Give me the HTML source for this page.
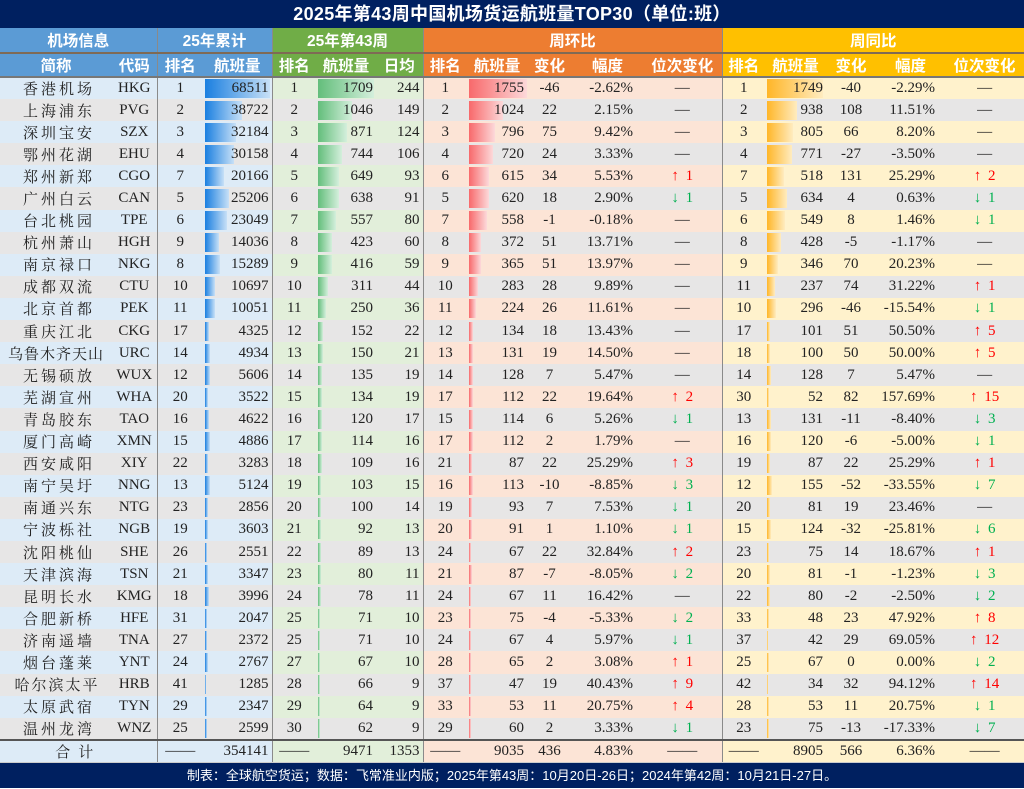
<!DOCTYPE html>
<html><head><meta charset="utf-8">
<style>
*{margin:0;padding:0;box-sizing:border-box}
body{width:1024px;height:789px;background:#fff;overflow:hidden;font-family:"Liberation Serif","Noto Serif CJK SC",serif}
.title{height:28px;background:#002060;color:#fff;font:bold 18px "Liberation Sans","Noto Sans CJK SC",sans-serif;text-align:center;line-height:28px;letter-spacing:0.3px}
table{border-collapse:collapse;table-layout:fixed;width:1024px}
th{font:bold 15.5px "Liberation Sans","Noto Sans CJK SC",sans-serif;color:#fff;height:24.5px;text-align:center;white-space:nowrap;padding:0}
tr.h1 th{border-bottom:2px solid #7f6a55}
tr.h2 th{border-bottom:2px solid #777}
.B{background:#5B9BD5}.G{background:#70AD47}.O{background:#ED7D31}.Y{background:#FFC000}
td{height:22.1px;font-size:15px;color:#222;text-align:center;white-space:nowrap;padding:0;overflow:hidden}
tr.o td.b{background-color:#DDEBF7}tr.o td.g{background-color:#E2EFDA}tr.o td.r{background-color:#FCE4D6}tr.o td.y{background-color:#FFF2CC}
tr.e td{background-color:#E7E6E6}
td.sep,th.sep{border-left:1.5px solid #8a8a8a}
td.nm{letter-spacing:3px;padding-left:6px}
td.rt{text-align:right;padding-right:3px}
td.pc{text-align:right;padding-right:10px}
.bar{background-repeat:no-repeat;background-position:2px center}
td.bb{background-image:linear-gradient(90deg,#1a7fe0,#c7e0f7)}
td.bg{background-image:linear-gradient(90deg,#63be7b,#d4efdc)}
td.br{background-image:linear-gradient(90deg,#f8696b,#fcd9da)}
td.by{background-image:linear-gradient(90deg,#ffb628,#ffecc0)}
.u{color:#f00;word-spacing:3px}.d{color:#00b050;word-spacing:3px}
tr.tot td{height:22px;border-top:2px solid #555;background-color:#DDEBF7}
tr.tot td.g{background-color:#E2EFDA}tr.tot td.r{background-color:#FCE4D6}tr.tot td.y{background-color:#FFF2CC}
.foot{height:26px;background:#002060;color:#fff;font:13px "Liberation Sans","Noto Sans CJK SC",sans-serif;text-align:center;line-height:25px;border-top:1px solid #ccc}
</style></head><body>
<div class="title">2025年第43周中国机场货运航班量TOP30（单位:班）</div>
<table>
<colgroup><col style="width:112px"><col style="width:45px"><col style="width:46px"><col style="width:69px"><col style="width:44px"><col style="width:60px"><col style="width:47px"><col style="width:44px"><col style="width:60px"><col style="width:45px"><col style="width:71px"><col style="width:79px"><col style="width:43px"><col style="width:61px"><col style="width:50px"><col style="width:69px"><col style="width:79px"></colgroup>
<tr class="h1"><th class="B" colspan="2">机场信息</th><th class="B sep" colspan="2">25年累计</th><th class="G sep" colspan="3">25年第43周</th><th class="O sep" colspan="5">周环比</th><th class="Y sep" colspan="5">周同比</th></tr>
<tr class="h2"><th class="B">简称</th><th class="B">代码</th><th class="B sep">排名</th><th class="B">航班量</th><th class="G sep">排名</th><th class="G">航班量</th><th class="G">日均</th><th class="O sep">排名</th><th class="O">航班量</th><th class="O">变化</th><th class="O">幅度</th><th class="O">位次变化</th><th class="Y sep">排名</th><th class="Y">航班量</th><th class="Y">变化</th><th class="Y">幅度</th><th class="Y">位次变化</th></tr>
<tr class="o"><td class="b nm">香港机场</td><td class="b">HKG</td><td class="b sep">1</td><td class="b rt bar bb" style="background-size:65px 19px">68511</td><td class="g sep">1</td><td class="g rt bar bg" style="background-size:56px 19px">1709</td><td class="g rt">244</td><td class="r sep">1</td><td class="r rt bar br" style="background-size:58px 19px">1755</td><td class="r">-46</td><td class="r pc">-2.62%</td><td class="r">—</td><td class="y sep">1</td><td class="y rt bar by" style="background-size:56px 19px">1749</td><td class="y">-40</td><td class="y pc">-2.29%</td><td class="y">—</td></tr>
<tr class="e"><td class="b nm">上海浦东</td><td class="b">PVG</td><td class="b sep">2</td><td class="b rt bar bb" style="background-size:37px 19px">38722</td><td class="g sep">2</td><td class="g rt bar bg" style="background-size:34px 19px">1046</td><td class="g rt">149</td><td class="r sep">2</td><td class="r rt bar br" style="background-size:34px 19px">1024</td><td class="r">22</td><td class="r pc">2.15%</td><td class="r">—</td><td class="y sep">2</td><td class="y rt bar by" style="background-size:30px 19px">938</td><td class="y">108</td><td class="y pc">11.51%</td><td class="y">—</td></tr>
<tr class="o"><td class="b nm">深圳宝安</td><td class="b">SZX</td><td class="b sep">3</td><td class="b rt bar bb" style="background-size:31px 19px">32184</td><td class="g sep">3</td><td class="g rt bar bg" style="background-size:29px 19px">871</td><td class="g rt">124</td><td class="r sep">3</td><td class="r rt bar br" style="background-size:26px 19px">796</td><td class="r">75</td><td class="r pc">9.42%</td><td class="r">—</td><td class="y sep">3</td><td class="y rt bar by" style="background-size:26px 19px">805</td><td class="y">66</td><td class="y pc">8.20%</td><td class="y">—</td></tr>
<tr class="e"><td class="b nm">鄂州花湖</td><td class="b">EHU</td><td class="b sep">4</td><td class="b rt bar bb" style="background-size:29px 19px">30158</td><td class="g sep">4</td><td class="g rt bar bg" style="background-size:24px 19px">744</td><td class="g rt">106</td><td class="r sep">4</td><td class="r rt bar br" style="background-size:24px 19px">720</td><td class="r">24</td><td class="r pc">3.33%</td><td class="r">—</td><td class="y sep">4</td><td class="y rt bar by" style="background-size:25px 19px">771</td><td class="y">-27</td><td class="y pc">-3.50%</td><td class="y">—</td></tr>
<tr class="o"><td class="b nm">郑州新郑</td><td class="b">CGO</td><td class="b sep">7</td><td class="b rt bar bb" style="background-size:19px 19px">20166</td><td class="g sep">5</td><td class="g rt bar bg" style="background-size:21px 19px">649</td><td class="g rt">93</td><td class="r sep">6</td><td class="r rt bar br" style="background-size:20px 19px">615</td><td class="r">34</td><td class="r pc">5.53%</td><td class="r u">↑ 1</td><td class="y sep">7</td><td class="y rt bar by" style="background-size:17px 19px">518</td><td class="y">131</td><td class="y pc">25.29%</td><td class="y u">↑ 2</td></tr>
<tr class="e"><td class="b nm">广州白云</td><td class="b">CAN</td><td class="b sep">5</td><td class="b rt bar bb" style="background-size:24px 19px">25206</td><td class="g sep">6</td><td class="g rt bar bg" style="background-size:21px 19px">638</td><td class="g rt">91</td><td class="r sep">5</td><td class="r rt bar br" style="background-size:20px 19px">620</td><td class="r">18</td><td class="r pc">2.90%</td><td class="r d">↓ 1</td><td class="y sep">5</td><td class="y rt bar by" style="background-size:20px 19px">634</td><td class="y">4</td><td class="y pc">0.63%</td><td class="y d">↓ 1</td></tr>
<tr class="o"><td class="b nm">台北桃园</td><td class="b">TPE</td><td class="b sep">6</td><td class="b rt bar bb" style="background-size:22px 19px">23049</td><td class="g sep">7</td><td class="g rt bar bg" style="background-size:18px 19px">557</td><td class="g rt">80</td><td class="r sep">7</td><td class="r rt bar br" style="background-size:18px 19px">558</td><td class="r">-1</td><td class="r pc">-0.18%</td><td class="r">—</td><td class="y sep">6</td><td class="y rt bar by" style="background-size:18px 19px">549</td><td class="y">8</td><td class="y pc">1.46%</td><td class="y d">↓ 1</td></tr>
<tr class="e"><td class="b nm">杭州萧山</td><td class="b">HGH</td><td class="b sep">9</td><td class="b rt bar bb" style="background-size:14px 19px">14036</td><td class="g sep">8</td><td class="g rt bar bg" style="background-size:14px 19px">423</td><td class="g rt">60</td><td class="r sep">8</td><td class="r rt bar br" style="background-size:12px 19px">372</td><td class="r">51</td><td class="r pc">13.71%</td><td class="r">—</td><td class="y sep">8</td><td class="y rt bar by" style="background-size:14px 19px">428</td><td class="y">-5</td><td class="y pc">-1.17%</td><td class="y">—</td></tr>
<tr class="o"><td class="b nm">南京禄口</td><td class="b">NKG</td><td class="b sep">8</td><td class="b rt bar bb" style="background-size:15px 19px">15289</td><td class="g sep">9</td><td class="g rt bar bg" style="background-size:14px 19px">416</td><td class="g rt">59</td><td class="r sep">9</td><td class="r rt bar br" style="background-size:12px 19px">365</td><td class="r">51</td><td class="r pc">13.97%</td><td class="r">—</td><td class="y sep">9</td><td class="y rt bar by" style="background-size:11px 19px">346</td><td class="y">70</td><td class="y pc">20.23%</td><td class="y">—</td></tr>
<tr class="e"><td class="b nm">成都双流</td><td class="b">CTU</td><td class="b sep">10</td><td class="b rt bar bb" style="background-size:10px 19px">10697</td><td class="g sep">10</td><td class="g rt bar bg" style="background-size:10px 19px">311</td><td class="g rt">44</td><td class="r sep">10</td><td class="r rt bar br" style="background-size:9px 19px">283</td><td class="r">28</td><td class="r pc">9.89%</td><td class="r">—</td><td class="y sep">11</td><td class="y rt bar by" style="background-size:8px 19px">237</td><td class="y">74</td><td class="y pc">31.22%</td><td class="y u">↑ 1</td></tr>
<tr class="o"><td class="b nm">北京首都</td><td class="b">PEK</td><td class="b sep">11</td><td class="b rt bar bb" style="background-size:10px 19px">10051</td><td class="g sep">11</td><td class="g rt bar bg" style="background-size:8px 19px">250</td><td class="g rt">36</td><td class="r sep">11</td><td class="r rt bar br" style="background-size:7px 19px">224</td><td class="r">26</td><td class="r pc">11.61%</td><td class="r">—</td><td class="y sep">10</td><td class="y rt bar by" style="background-size:9px 19px">296</td><td class="y">-46</td><td class="y pc">-15.54%</td><td class="y d">↓ 1</td></tr>
<tr class="e"><td class="b nm">重庆江北</td><td class="b">CKG</td><td class="b sep">17</td><td class="b rt bar bb" style="background-size:4px 19px">4325</td><td class="g sep">12</td><td class="g rt bar bg" style="background-size:5px 19px">152</td><td class="g rt">22</td><td class="r sep">12</td><td class="r rt bar br" style="background-size:4px 19px">134</td><td class="r">18</td><td class="r pc">13.43%</td><td class="r">—</td><td class="y sep">17</td><td class="y rt bar by" style="background-size:3px 19px">101</td><td class="y">51</td><td class="y pc">50.50%</td><td class="y u">↑ 5</td></tr>
<tr class="o"><td class="b nm" style="letter-spacing:1px;padding-left:0">乌鲁木齐天山</td><td class="b">URC</td><td class="b sep">14</td><td class="b rt bar bb" style="background-size:5px 19px">4934</td><td class="g sep">13</td><td class="g rt bar bg" style="background-size:5px 19px">150</td><td class="g rt">21</td><td class="r sep">13</td><td class="r rt bar br" style="background-size:4px 19px">131</td><td class="r">19</td><td class="r pc">14.50%</td><td class="r">—</td><td class="y sep">18</td><td class="y rt bar by" style="background-size:3px 19px">100</td><td class="y">50</td><td class="y pc">50.00%</td><td class="y u">↑ 5</td></tr>
<tr class="e"><td class="b nm">无锡硕放</td><td class="b">WUX</td><td class="b sep">12</td><td class="b rt bar bb" style="background-size:5px 19px">5606</td><td class="g sep">14</td><td class="g rt bar bg" style="background-size:4px 19px">135</td><td class="g rt">19</td><td class="r sep">14</td><td class="r rt bar br" style="background-size:4px 19px">128</td><td class="r">7</td><td class="r pc">5.47%</td><td class="r">—</td><td class="y sep">14</td><td class="y rt bar by" style="background-size:4px 19px">128</td><td class="y">7</td><td class="y pc">5.47%</td><td class="y">—</td></tr>
<tr class="o"><td class="b nm">芜湖宣州</td><td class="b">WHA</td><td class="b sep">20</td><td class="b rt bar bb" style="background-size:3px 19px">3522</td><td class="g sep">15</td><td class="g rt bar bg" style="background-size:4px 19px">134</td><td class="g rt">19</td><td class="r sep">17</td><td class="r rt bar br" style="background-size:4px 19px">112</td><td class="r">22</td><td class="r pc">19.64%</td><td class="r u">↑ 2</td><td class="y sep">30</td><td class="y rt bar by" style="background-size:2px 19px">52</td><td class="y">82</td><td class="y pc">157.69%</td><td class="y u">↑ 15</td></tr>
<tr class="e"><td class="b nm">青岛胶东</td><td class="b">TAO</td><td class="b sep">16</td><td class="b rt bar bb" style="background-size:4px 19px">4622</td><td class="g sep">16</td><td class="g rt bar bg" style="background-size:4px 19px">120</td><td class="g rt">17</td><td class="r sep">15</td><td class="r rt bar br" style="background-size:4px 19px">114</td><td class="r">6</td><td class="r pc">5.26%</td><td class="r d">↓ 1</td><td class="y sep">13</td><td class="y rt bar by" style="background-size:4px 19px">131</td><td class="y">-11</td><td class="y pc">-8.40%</td><td class="y d">↓ 3</td></tr>
<tr class="o"><td class="b nm">厦门高崎</td><td class="b">XMN</td><td class="b sep">15</td><td class="b rt bar bb" style="background-size:5px 19px">4886</td><td class="g sep">17</td><td class="g rt bar bg" style="background-size:4px 19px">114</td><td class="g rt">16</td><td class="r sep">17</td><td class="r rt bar br" style="background-size:4px 19px">112</td><td class="r">2</td><td class="r pc">1.79%</td><td class="r">—</td><td class="y sep">16</td><td class="y rt bar by" style="background-size:4px 19px">120</td><td class="y">-6</td><td class="y pc">-5.00%</td><td class="y d">↓ 1</td></tr>
<tr class="e"><td class="b nm">西安咸阳</td><td class="b">XIY</td><td class="b sep">22</td><td class="b rt bar bb" style="background-size:3px 19px">3283</td><td class="g sep">18</td><td class="g rt bar bg" style="background-size:4px 19px">109</td><td class="g rt">16</td><td class="r sep">21</td><td class="r rt bar br" style="background-size:3px 19px">87</td><td class="r">22</td><td class="r pc">25.29%</td><td class="r u">↑ 3</td><td class="y sep">19</td><td class="y rt bar by" style="background-size:3px 19px">87</td><td class="y">22</td><td class="y pc">25.29%</td><td class="y u">↑ 1</td></tr>
<tr class="o"><td class="b nm">南宁吴圩</td><td class="b">NNG</td><td class="b sep">13</td><td class="b rt bar bb" style="background-size:5px 19px">5124</td><td class="g sep">19</td><td class="g rt bar bg" style="background-size:3px 19px">103</td><td class="g rt">15</td><td class="r sep">16</td><td class="r rt bar br" style="background-size:4px 19px">113</td><td class="r">-10</td><td class="r pc">-8.85%</td><td class="r d">↓ 3</td><td class="y sep">12</td><td class="y rt bar by" style="background-size:5px 19px">155</td><td class="y">-52</td><td class="y pc">-33.55%</td><td class="y d">↓ 7</td></tr>
<tr class="e"><td class="b nm">南通兴东</td><td class="b">NTG</td><td class="b sep">23</td><td class="b rt bar bb" style="background-size:3px 19px">2856</td><td class="g sep">20</td><td class="g rt bar bg" style="background-size:3px 19px">100</td><td class="g rt">14</td><td class="r sep">19</td><td class="r rt bar br" style="background-size:3px 19px">93</td><td class="r">7</td><td class="r pc">7.53%</td><td class="r d">↓ 1</td><td class="y sep">20</td><td class="y rt bar by" style="background-size:3px 19px">81</td><td class="y">19</td><td class="y pc">23.46%</td><td class="y">—</td></tr>
<tr class="o"><td class="b nm">宁波栎社</td><td class="b">NGB</td><td class="b sep">19</td><td class="b rt bar bb" style="background-size:3px 19px">3603</td><td class="g sep">21</td><td class="g rt bar bg" style="background-size:3px 19px">92</td><td class="g rt">13</td><td class="r sep">20</td><td class="r rt bar br" style="background-size:3px 19px">91</td><td class="r">1</td><td class="r pc">1.10%</td><td class="r d">↓ 1</td><td class="y sep">15</td><td class="y rt bar by" style="background-size:4px 19px">124</td><td class="y">-32</td><td class="y pc">-25.81%</td><td class="y d">↓ 6</td></tr>
<tr class="e"><td class="b nm">沈阳桃仙</td><td class="b">SHE</td><td class="b sep">26</td><td class="b rt bar bb" style="background-size:2px 19px">2551</td><td class="g sep">22</td><td class="g rt bar bg" style="background-size:3px 19px">89</td><td class="g rt">13</td><td class="r sep">24</td><td class="r rt bar br" style="background-size:2px 19px">67</td><td class="r">22</td><td class="r pc">32.84%</td><td class="r u">↑ 2</td><td class="y sep">23</td><td class="y rt bar by" style="background-size:2px 19px">75</td><td class="y">14</td><td class="y pc">18.67%</td><td class="y u">↑ 1</td></tr>
<tr class="o"><td class="b nm">天津滨海</td><td class="b">TSN</td><td class="b sep">21</td><td class="b rt bar bb" style="background-size:3px 19px">3347</td><td class="g sep">23</td><td class="g rt bar bg" style="background-size:3px 19px">80</td><td class="g rt">11</td><td class="r sep">21</td><td class="r rt bar br" style="background-size:3px 19px">87</td><td class="r">-7</td><td class="r pc">-8.05%</td><td class="r d">↓ 2</td><td class="y sep">20</td><td class="y rt bar by" style="background-size:3px 19px">81</td><td class="y">-1</td><td class="y pc">-1.23%</td><td class="y d">↓ 3</td></tr>
<tr class="e"><td class="b nm">昆明长水</td><td class="b">KMG</td><td class="b sep">18</td><td class="b rt bar bb" style="background-size:4px 19px">3996</td><td class="g sep">24</td><td class="g rt bar bg" style="background-size:3px 19px">78</td><td class="g rt">11</td><td class="r sep">24</td><td class="r rt bar br" style="background-size:2px 19px">67</td><td class="r">11</td><td class="r pc">16.42%</td><td class="r">—</td><td class="y sep">22</td><td class="y rt bar by" style="background-size:3px 19px">80</td><td class="y">-2</td><td class="y pc">-2.50%</td><td class="y d">↓ 2</td></tr>
<tr class="o"><td class="b nm">合肥新桥</td><td class="b">HFE</td><td class="b sep">31</td><td class="b rt bar bb" style="background-size:2px 19px">2047</td><td class="g sep">25</td><td class="g rt bar bg" style="background-size:2px 19px">71</td><td class="g rt">10</td><td class="r sep">23</td><td class="r rt bar br" style="background-size:2px 19px">75</td><td class="r">-4</td><td class="r pc">-5.33%</td><td class="r d">↓ 2</td><td class="y sep">33</td><td class="y rt bar by" style="background-size:2px 19px">48</td><td class="y">23</td><td class="y pc">47.92%</td><td class="y u">↑ 8</td></tr>
<tr class="e"><td class="b nm">济南遥墙</td><td class="b">TNA</td><td class="b sep">27</td><td class="b rt bar bb" style="background-size:2px 19px">2372</td><td class="g sep">25</td><td class="g rt bar bg" style="background-size:2px 19px">71</td><td class="g rt">10</td><td class="r sep">24</td><td class="r rt bar br" style="background-size:2px 19px">67</td><td class="r">4</td><td class="r pc">5.97%</td><td class="r d">↓ 1</td><td class="y sep">37</td><td class="y rt bar by" style="background-size:1px 19px">42</td><td class="y">29</td><td class="y pc">69.05%</td><td class="y u">↑ 12</td></tr>
<tr class="o"><td class="b nm">烟台蓬莱</td><td class="b">YNT</td><td class="b sep">24</td><td class="b rt bar bb" style="background-size:3px 19px">2767</td><td class="g sep">27</td><td class="g rt bar bg" style="background-size:2px 19px">67</td><td class="g rt">10</td><td class="r sep">28</td><td class="r rt bar br" style="background-size:2px 19px">65</td><td class="r">2</td><td class="r pc">3.08%</td><td class="r u">↑ 1</td><td class="y sep">25</td><td class="y rt bar by" style="background-size:2px 19px">67</td><td class="y">0</td><td class="y pc">0.00%</td><td class="y d">↓ 2</td></tr>
<tr class="e"><td class="b nm" style="letter-spacing:2px;padding-left:2px">哈尔滨太平</td><td class="b">HRB</td><td class="b sep">41</td><td class="b rt bar bb" style="background-size:1px 19px">1285</td><td class="g sep">28</td><td class="g rt bar bg" style="background-size:2px 19px">66</td><td class="g rt">9</td><td class="r sep">37</td><td class="r rt bar br" style="background-size:2px 19px">47</td><td class="r">19</td><td class="r pc">40.43%</td><td class="r u">↑ 9</td><td class="y sep">42</td><td class="y rt bar by" style="background-size:1px 19px">34</td><td class="y">32</td><td class="y pc">94.12%</td><td class="y u">↑ 14</td></tr>
<tr class="o"><td class="b nm">太原武宿</td><td class="b">TYN</td><td class="b sep">29</td><td class="b rt bar bb" style="background-size:2px 19px">2347</td><td class="g sep">29</td><td class="g rt bar bg" style="background-size:2px 19px">64</td><td class="g rt">9</td><td class="r sep">33</td><td class="r rt bar br" style="background-size:2px 19px">53</td><td class="r">11</td><td class="r pc">20.75%</td><td class="r u">↑ 4</td><td class="y sep">28</td><td class="y rt bar by" style="background-size:2px 19px">53</td><td class="y">11</td><td class="y pc">20.75%</td><td class="y d">↓ 1</td></tr>
<tr class="e"><td class="b nm">温州龙湾</td><td class="b">WNZ</td><td class="b sep">25</td><td class="b rt bar bb" style="background-size:2px 19px">2599</td><td class="g sep">30</td><td class="g rt bar bg" style="background-size:2px 19px">62</td><td class="g rt">9</td><td class="r sep">29</td><td class="r rt bar br" style="background-size:2px 19px">60</td><td class="r">2</td><td class="r pc">3.33%</td><td class="r d">↓ 1</td><td class="y sep">23</td><td class="y rt bar by" style="background-size:2px 19px">75</td><td class="y">-13</td><td class="y pc">-17.33%</td><td class="y d">↓ 7</td></tr>
<tr class="tot"><td colspan="2" style="letter-spacing:8px">合计</td><td class="sep">——</td><td class="rt">354141</td><td class="g sep">——</td><td class="g rt">9471</td><td class="g rt">1353</td><td class="r sep">——</td><td class="r rt">9035</td><td class="r">436</td><td class="r pc">4.83%</td><td class="r">——</td><td class="y sep">——</td><td class="y rt">8905</td><td class="y">566</td><td class="y pc">6.36%</td><td class="y">——</td></tr>
</table>
<div class="foot">制表：全球航空货运；数据：飞常准业内版；2025年第43周：10月20日-26日；2024年第42周：10月21日-27日。</div>
</body></html>
